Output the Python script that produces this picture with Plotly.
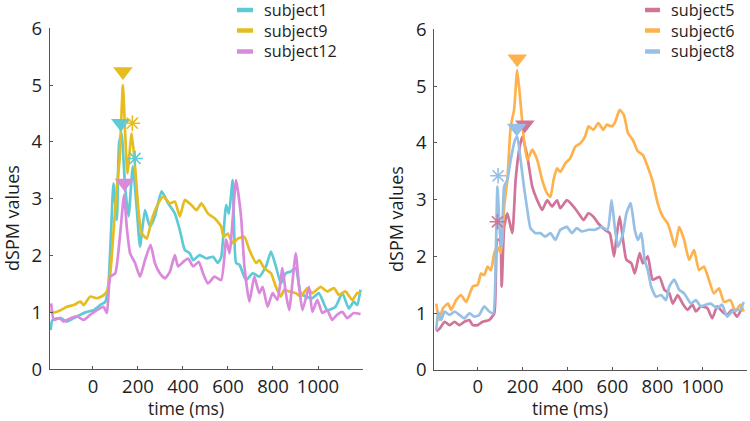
import plotly.graph_objects as go

# ---------------- data ----------------
s1_t = [-188,-180,-144,-115,-85,-56,-27,3,32,55,69,80,91,106,116,127,143,158,177,194,209,231,253,275,305,334,364,386,408,430,445,474,504,533,555,570,592,604,621,636,651,680,710,739,769,791,813,835,857,879,901,923,946,975,1004,1041,1078,1108,1137,1159,1174,1189]
s1_v = [0.69,0.87,0.9,0.84,0.9,0.96,1.01,1.04,1.13,1.19,1.51,2.39,3.27,2.63,3.98,4.15,3.2,2.69,3.57,2.86,2.16,2.8,2.51,2.69,3.13,2.92,2.74,2.45,2.1,2.04,1.92,2.01,1.95,1.98,1.87,1.98,2.89,2.74,3.33,1.87,1.84,1.57,1.69,1.63,1.81,2.07,1.81,1.51,1.69,1.72,1.78,1.34,1.28,1.25,1.34,1.04,1.1,1.34,1.07,1.19,1.13,1.4]

s9_t = [-188,-174,-144,-115,-85,-56,-41,-12,18,47,62,77,91,106,118,133,143,153,172,187,202,216,239,261,283,312,342,364,386,408,437,460,482,511,540,570,580,599,621,644,673,695,725,739,761,791,813,835,850,872,901,923,953,975,1012,1041,1071,1093,1122,1152,1174,1189]
s9_v = [1.04,1.0,1.04,1.1,1.13,1.19,1.13,1.28,1.25,1.3,1.37,1.69,2.4,3.2,3.68,5.0,4.15,3.45,4.15,3.57,2.8,2.4,2.3,2.63,2.86,3.04,2.92,2.95,2.69,2.98,2.89,2.8,2.92,2.74,2.66,2.51,2.33,2.39,2.22,2.3,2.33,2.1,1.87,1.92,1.78,1.69,1.45,1.28,1.4,1.37,1.34,1.28,1.43,1.34,1.45,1.37,1.43,1.31,1.37,1.22,1.34,1.35]

s12_t = [-186,-174,-150,-130,-100,-71,-41,-12,18,47,62,77,99,121,138,150,165,187,209,231,256,275,297,320,342,364,378,401,423,445,470,489,511,540,570,592,607,636,658,673,695,717,739,754,776,798,820,842,857,872,901,916,931,960,975,997,1019,1041,1063,1085,1108,1130,1159,1189]
s12_v = [1.16,0.87,0.9,0.84,0.9,0.93,0.87,0.96,1.04,1.1,0.99,1.63,1.69,2.39,3.07,2.51,2.04,1.87,1.63,1.92,2.19,1.87,1.69,1.6,1.72,2.01,1.81,1.89,1.95,1.81,1.89,1.69,1.51,1.63,1.57,2.28,2.04,3.33,2.69,1.81,1.19,1.63,1.34,1.45,1.1,1.34,1.22,1.78,1.34,1.04,2.04,1.45,1.04,1.45,1.01,1.22,0.99,1.04,0.87,0.96,1.01,0.9,0.99,0.97]

s5_t = [-184,-169,-147,-125,-103,-81,-59,-37,-22,0,22,51,74,88,99,107,118,132,154,169,187,199,221,243,265,287,309,331,353,368,397,426,449,471,493,515,537,566,588,607,618,632,647,662,684,699,721,735,757,779,809,831,853,868,890,912,934,956,971,993,1022,1044,1066,1088,1110,1132,1154,1176]
s5_v = [0.68,0.73,0.85,0.79,0.85,0.79,0.85,0.88,0.79,0.79,0.85,0.88,1.0,2.29,2.29,1.47,2.52,2.76,2.41,3.35,3.93,4.11,3.76,3.23,2.99,2.82,2.99,2.88,2.99,2.85,2.99,2.88,2.76,2.64,2.76,2.7,2.58,2.47,2.41,2.0,2.35,2.7,2.29,1.94,1.88,1.7,2.06,1.88,2.0,1.59,1.64,1.41,1.35,1.17,1.32,1.17,1.06,1.15,1.03,1.12,1.09,0.91,1.12,1.03,0.97,1.06,0.94,1.09]

s6_t = [-184,-172,-154,-132,-118,-96,-74,-51,-22,0,15,29,44,59,74,88,103,118,132,147,162,176,191,206,221,243,265,287,309,324,338,353,368,390,412,434,456,478,493,515,537,559,574,596,610,632,651,669,691,713,735,757,779,801,824,846,860,878,897,919,941,963,985,1007,1029,1051,1074,1096,1125,1147,1169,1184]
s6_v = [1.17,0.88,1.09,1.17,1.06,1.23,1.32,1.2,1.47,1.5,1.7,1.67,1.82,1.76,2.06,2.17,2.06,2.88,3.35,4.29,4.58,5.28,4.7,4.05,3.7,3.88,3.7,3.35,3.11,3.05,3.35,3.55,3.49,3.64,3.73,3.93,3.99,4.11,4.29,4.23,4.35,4.23,4.32,4.29,4.35,4.58,4.49,4.17,4.05,3.85,3.79,3.58,3.32,2.94,2.7,2.58,2.41,2.17,2.52,2.29,1.94,2.11,1.76,1.82,1.59,1.35,1.44,1.2,1.23,1.03,1.15,1.03]

s8_t = [-184,-176,-162,-147,-125,-103,-81,-59,-37,-15,7,29,51,69,81,88,99,107,118,132,147,166,176,191,206,221,235,257,279,301,324,346,368,397,419,441,463,493,522,551,578,596,610,625,647,662,681,699,713,728,743,757,772,794,816,838,853,875,897,919,949,971,993,1015,1037,1066,1088,1110,1140,1169,1184]
s8_v = [0.7,1.03,0.88,1.03,0.97,1.03,0.97,0.91,1.0,0.94,0.97,1.12,1.03,1.0,2.11,3.23,2.41,2.17,3.23,3.35,3.7,4.05,4.11,3.7,3.23,2.82,2.5,2.41,2.41,2.35,2.41,2.29,2.47,2.52,2.41,2.5,2.44,2.47,2.47,2.52,2.47,2.99,2.52,2.17,2.41,2.76,2.94,2.47,2.29,2.41,1.94,1.76,1.47,1.29,1.32,1.23,1.47,1.59,1.41,1.35,1.17,1.23,1.12,1.15,1.17,1.09,1.15,0.94,1.06,1.06,1.2]

# peak markers (triangle) and secondary markers (asterisk)
left_tri_t = [124, 133, 140]
left_tri_v = [4.33, 5.24, 3.28]
left_ast_t = [187, 175]
left_ast_v = [3.71, 4.33]
right_tri_t = [210, 176, 174]
right_tri_v = [4.32, 5.48, 4.26]
right_ast_t = [88, 91]
right_ast_v = [2.61, 3.42]

left_names = ["subject1", "subject9", "subject12"]
right_names = ["subject5", "subject6", "subject8"]
x_ticks = [0, 200, 400, 600, 800, 1000, 1200]
x_ticktext = ["0", "200", "400", "600", "800", "1000", ""]
y_ticks = [0, 1, 2, 3, 4, 5, 6]

C1, C9, C12 = "#5ECAD6", "#E6BD1E", "#DA8ADC"
C5, C6, C8 = "#D0749A", "#FDB24D", "#96C0E6"

W, H = 750, 421
FONT = "Open Sans"
TXT = "#1e1e1e"

fig = go.Figure()

def add_line(t, v, color, xa, ya):
    fig.add_trace(go.Scatter(x=t, y=v, mode="lines", xaxis=xa, yaxis=ya,
                             line=dict(color=color, width=2.7, shape="spline", smoothing=0.5),
                             showlegend=False, hoverinfo="skip"))

add_line(s1_t, s1_v, C1, "x", "y")
add_line(s9_t, s9_v, C9, "x", "y")
add_line(s12_t, s12_v, C12, "x", "y")
add_line(s5_t, s5_v, C5, "x2", "y2")
add_line(s6_t, s6_v, C6, "x2", "y2")
add_line(s8_t, s8_v, C8, "x2", "y2")

fig.add_trace(go.Scatter(x=left_tri_t, y=left_tri_v, mode="markers", xaxis="x", yaxis="y",
                         marker=dict(symbol="triangle-down", size=17, color=[C1, C9, C12], line=dict(width=0)),
                         showlegend=False))
fig.add_trace(go.Scatter(x=left_ast_t, y=left_ast_v, mode="markers", xaxis="x", yaxis="y",
                         marker=dict(symbol="asterisk-open", size=13, color=[C1, C9], line=dict(width=1.6)),
                         showlegend=False))
fig.add_trace(go.Scatter(x=right_tri_t, y=right_tri_v, mode="markers", xaxis="x2", yaxis="y2",
                         marker=dict(symbol="triangle-down", size=17, color=[C5, C6, C8], line=dict(width=0)),
                         showlegend=False))
fig.add_trace(go.Scatter(x=right_ast_t, y=right_ast_v, mode="markers", xaxis="x2", yaxis="y2",
                         marker=dict(symbol="asterisk-open", size=13, color=[C5, C8], line=dict(width=1.6)),
                         showlegend=False))

axis_common = dict(showline=True, linecolor="#555555", linewidth=1.2, ticks="inside", ticklen=3,
                   tickcolor="#555555", showgrid=False, zeroline=False, automargin=False,
                   tickfont=dict(family=FONT, size=18.5, color=TXT))

fig.update_layout(
    width=W, height=H, margin=dict(l=0, r=0, t=0, b=0, pad=0),
    paper_bgcolor="white", plot_bgcolor="white", showlegend=False,
    xaxis=dict(domain=[50/W, 363/W], range=[-191, 1200], tickvals=x_ticks, ticktext=x_ticktext,
               anchor="y", **axis_common),
    yaxis=dict(domain=[1-369.3/H, 1-28.3/H], range=[0, 6], tickvals=y_ticks, anchor="x",
               ticklabelstandoff=3, **axis_common),
    xaxis2=dict(domain=[434.3/W, 747.3/W], range=[-193, 1200], tickvals=x_ticks, ticktext=x_ticktext,
                anchor="y2", **axis_common),
    yaxis2=dict(domain=[1-370/H, 1-29.3/H], range=[0, 6], tickvals=y_ticks, anchor="x2",
                ticklabelstandoff=3, **axis_common),
)

# axis titles
annos = []
for xc, yc in [(186, 408), (570, 408)]:
    annos.append(dict(text="time (ms)", x=xc/W, y=1-yc/H, xref="paper", yref="paper",
                      showarrow=False, xanchor="center", yanchor="middle",
                      font=dict(family=FONT, size=17.5, color=TXT)))
for xc, yc in [(12, 218), (396, 219)]:
    annos.append(dict(text="dSPM values", x=xc/W, y=1-yc/H, xref="paper", yref="paper",
                      showarrow=False, xanchor="center", yanchor="middle", textangle=-90,
                      font=dict(family=FONT, size=18, color=TXT)))

# legends (drawn as sample lines + text)
shapes = []
rows_y = [10, 30.5, 51.5]
for names, colors, sx0, sx1, tx in [(left_names, [C1, C9, C12], 237, 253, 262),
                                     (right_names, [C5, C6, C8], 645, 660, 669)]:
    for nm, col, ry in zip(names, colors, rows_y):
        shapes.append(dict(type="line", xref="paper", yref="paper", x0=sx0/W, x1=sx1/W,
                           y0=1-ry/H, y1=1-ry/H, line=dict(color=col, width=4.5)))
        annos.append(dict(text=nm, x=tx/W, y=1-ry/H, xref="paper", yref="paper", showarrow=False,
                          xanchor="left", yanchor="middle",
                          font=dict(family=FONT, size=16.2, color=TXT)))

fig.update_layout(annotations=annos, shapes=shapes)
fig.write_html("out.html", config={"displayModeBar": False},
               post_script="document.body.style.margin='0';document.body.style.overflow='hidden';")
